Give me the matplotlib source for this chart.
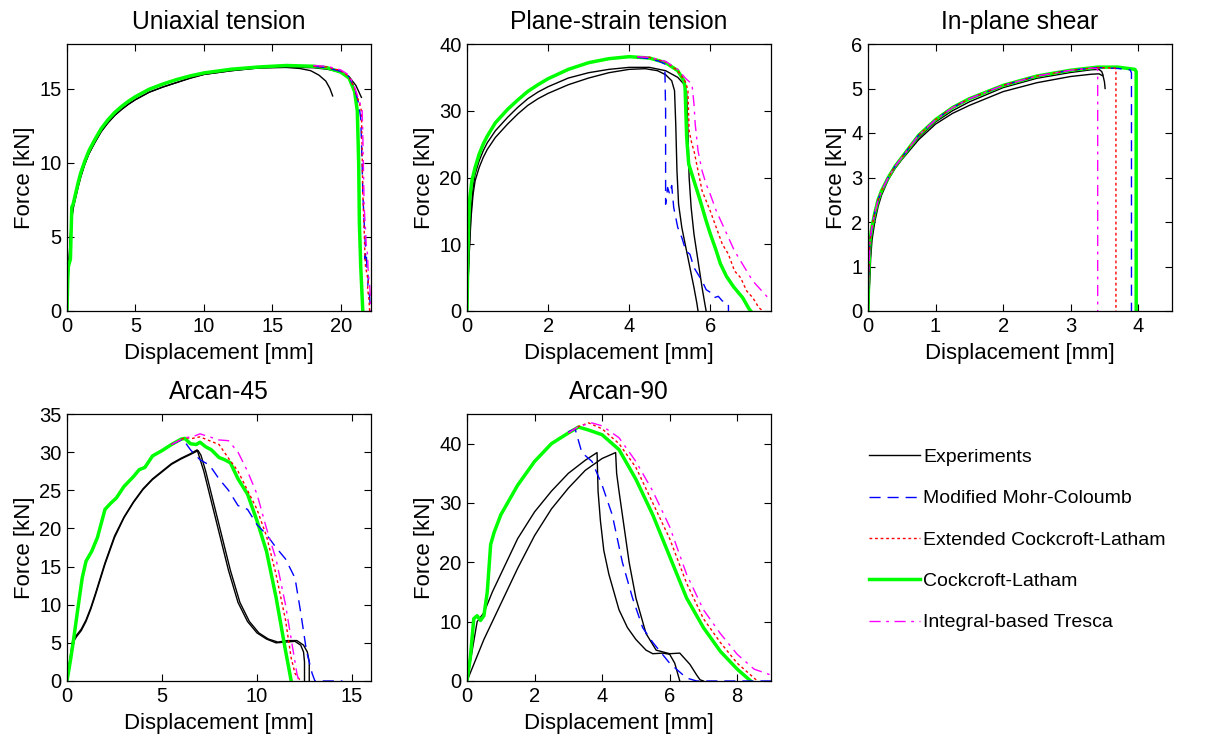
import matplotlib
matplotlib.use("Agg")
import matplotlib.pyplot as plt

plt.rcParams['font.family'] = ['Liberation Sans', 'DejaVu Sans']

# ---------------- Data ----------------
# Uniaxial tension
ut_exp1_x = [0, 0.08, 0.15, 0.3, 0.45, 0.6, 0.8, 1, 1.3, 1.6, 2, 2.5, 3, 3.5, 4, 4.5, 5, 6, 7, 8, 9, 10, 12, 14, 16, 17, 17.8, 18.4, 18.9, 19.2, 19.4]
ut_exp1_y = [0, 2.5, 3.5, 6.0, 7.0, 7.6, 8.4, 9.1, 9.9, 10.6, 11.3, 12.1, 12.7, 13.2, 13.6, 13.95, 14.25, 14.75, 15.1, 15.4, 15.7, 15.95, 16.2, 16.38, 16.42, 16.35, 16.2, 15.9, 15.5, 15.0, 14.5]
ut_exp2_x = [0, 0.08, 0.15, 0.3, 0.45, 0.6, 0.8, 1, 1.3, 1.6, 2, 2.5, 3, 3.5, 4, 4.5, 5, 6, 7, 8, 9, 10, 12, 14, 16, 18, 19, 20, 20.6, 21.1, 21.5]
ut_exp2_y = [0, 2.2, 3.2, 5.8, 6.9, 7.5, 8.3, 9.0, 9.9, 10.6, 11.3, 12.1, 12.7, 13.2, 13.6, 13.95, 14.25, 14.75, 15.1, 15.4, 15.7, 15.95, 16.2, 16.4, 16.45, 16.4, 16.3, 16.1, 15.8, 15.2, 14.4]
ut_cl_x = [0, 0.05, 0.1, 0.25, 0.35, 0.45, 0.6, 0.8, 1, 1.3, 1.6, 2, 2.5, 3, 3.5, 4, 4.5, 5, 6, 7, 8, 9, 10, 12, 14, 16, 18, 19, 20, 20.6, 21.0, 21.2, 21.3, 21.35, 21.45, 21.6]
ut_cl_y = [0, 2.0, 3.0, 3.5, 7.0, 7.2, 7.8, 8.6, 9.3, 10.1, 10.8, 11.5, 12.3, 12.9, 13.4, 13.8, 14.15, 14.45, 14.95, 15.3, 15.6, 15.85, 16.05, 16.3, 16.45, 16.55, 16.5, 16.4, 16.1, 15.7, 14.8, 13.5, 10.0, 6.0, 3.0, 0]
ut_mmc_x = [18, 19, 20, 20.6, 21.0, 21.3, 21.45, 21.55, 21.6, 21.7, 21.8, 21.75, 21.85, 21.9, 22.0, 21.95, 22.1, 22.15]
ut_mmc_y = [16.5, 16.4, 16.15, 15.8, 15.0, 14.0, 13.0, 10.0, 8.0, 6.0, 4.2, 3.5, 4.0, 3.0, 2.2, 1.5, 1.0, 0]
ut_ecl_x = [18, 19, 20, 20.6, 21.0, 21.35, 21.5, 21.55, 21.6, 21.7, 21.75, 21.8, 21.9, 22.0, 21.95, 22.05, 22.1]
ut_ecl_y = [16.5, 16.45, 16.2, 15.8, 15.0, 14.0, 13.5, 11.0, 8.0, 5.5, 4.0, 3.0, 2.5, 2.0, 1.5, 0.8, 0]
ut_it_x = [18, 19, 20, 20.6, 21.0, 21.4, 21.55, 21.6, 21.65, 21.7, 21.8, 21.85, 21.95, 22.0, 22.1, 22.15, 22.2]
ut_it_y = [16.55, 16.5, 16.25, 15.9, 15.1, 14.0, 13.6, 12.0, 9.5, 7.0, 5.5, 4.5, 3.8, 2.5, 1.8, 1.0, 0]

# Plane-strain tension
ps_exp1_x = [0, 0.05, 0.1, 0.15, 0.2, 0.3, 0.4, 0.5, 0.7, 1, 1.25, 1.5, 1.75, 2, 2.5, 3, 3.5, 4, 4.4, 4.7, 4.9, 5.05, 5.12, 5.15, 5.18, 5.22, 5.3, 5.4, 5.5, 5.6, 5.67, 5.7]
ps_exp1_y = [0, 8, 14, 17.5, 19.5, 21.5, 23.0, 24.2, 26.0, 28.0, 29.5, 30.8, 31.8, 32.6, 33.9, 34.9, 35.7, 36.2, 36.3, 36.0, 35.4, 34.5, 33.0, 28, 21, 16, 12.5, 9.5, 6.5, 3.5, 1.2, 0]
ps_exp2_x = [0, 0.05, 0.1, 0.15, 0.2, 0.3, 0.4, 0.5, 0.7, 1, 1.25, 1.5, 1.75, 2, 2.5, 3, 3.5, 4, 4.5, 4.9, 5.2, 5.35, 5.42, 5.45, 5.48, 5.53, 5.6, 5.7, 5.8, 5.87, 5.9]
ps_exp2_y = [0, 8.5, 15, 18.5, 20.5, 22.5, 24.0, 25.2, 27.0, 29.0, 30.5, 31.8, 32.8, 33.6, 34.9, 35.7, 36.2, 36.5, 36.5, 36.0, 35.0, 34.0, 32.5, 27, 20, 15.5, 11.5, 7.5, 3.5, 1.0, 0]
ps_cl_x = [0, 0.02, 0.04, 0.07, 0.12, 0.2, 0.3, 0.4, 0.5, 0.7, 1, 1.25, 1.5, 1.75, 2, 2.5, 3, 3.5, 4, 4.5, 4.9, 5.2, 5.35, 5.38, 5.42, 5.47, 5.6, 5.75, 5.9, 6.0, 6.15, 6.25, 6.4, 6.58, 6.8, 6.95, 7.0]
ps_cl_y = [0, 8, 13, 17, 19.5, 21.5, 23.5, 25.0, 26.2, 28.2, 30.2, 31.6, 32.9, 33.9, 34.8, 36.2, 37.2, 37.8, 38.1, 37.9, 37.2, 36.0, 34.5, 33.5, 26, 22, 19.5, 16.6, 13.5, 11.6, 9.0, 7.1, 5.2, 3.6, 2.0, 0.4, 0]
ps_mmc_x = [4.2, 4.5, 4.75, 4.88, 4.9, 4.9, 4.95, 5.0, 5.05, 5.1, 5.15, 5.2, 5.3, 5.4, 5.5, 5.6, 5.7, 5.8, 5.9, 6.0, 6.1, 6.2, 6.3, 6.4, 6.45, 6.45]
ps_mmc_y = [38.0, 37.8, 37.4, 37.0, 30, 16, 18.5, 17.5, 18.8, 15.5, 14.0, 12.5, 11.0, 9.0, 8.5, 6.5, 5.5, 4.5, 3.2, 2.8, 2.0, 2.2, 1.5, 1.4, 0.8, 0]
ps_ecl_x = [4.2, 4.5, 4.9, 5.2, 5.4, 5.45, 5.48, 5.55, 5.6, 5.7, 5.8, 5.9, 6.0, 6.15, 6.3, 6.45, 6.6, 6.75, 6.9, 7.05, 7.2, 7.3]
ps_ecl_y = [38.1, 38.0, 37.3, 36.0, 34.2, 33.0, 27, 25, 24, 21, 18, 16.5, 15, 12.5, 10, 8.5, 6, 5.0, 3, 2.0, 0.5, 0]
ps_it_x = [4.2, 4.5, 4.9, 5.2, 5.4, 5.55, 5.6, 5.63, 5.7, 5.8, 5.9, 6.0, 6.15, 6.3, 6.45, 6.6, 6.75, 6.9, 7.05, 7.2, 7.35, 7.5]
ps_it_y = [38.1, 38.0, 37.4, 36.2, 34.8, 34.0, 31, 28, 24, 21, 19, 17.5, 15, 13, 11, 9, 7.5, 6, 4.5, 3.5, 2.5, 1.5]

# In-plane shear
sh_exp1_x = [0, 0.02, 0.04, 0.06, 0.1, 0.15, 0.2, 0.3, 0.4, 0.5, 0.75, 1, 1.25, 1.5, 2, 2.5, 3, 3.3, 3.42, 3.48, 3.5, 3.51]
sh_exp1_y = [0, 0.5, 1.2, 1.6, 2.0, 2.35, 2.6, 2.95, 3.2, 3.4, 3.85, 4.2, 4.44, 4.62, 4.93, 5.13, 5.27, 5.32, 5.33, 5.28, 5.15, 5.0]
sh_exp2_x = [0, 0.02, 0.04, 0.06, 0.1, 0.15, 0.2, 0.3, 0.4, 0.5, 0.75, 1, 1.25, 1.5, 2, 2.5, 3, 3.3, 3.42, 3.46, 3.48]
sh_exp2_y = [0, 0.6, 1.4, 1.8, 2.15, 2.45, 2.7, 3.0, 3.25, 3.45, 3.9, 4.25, 4.5, 4.7, 5.02, 5.23, 5.36, 5.42, 5.43, 5.38, 5.3]
sh_cl_x = [0, 0.01, 0.03, 0.06, 0.1, 0.15, 0.2, 0.3, 0.4, 0.5, 0.75, 1, 1.25, 1.5, 2, 2.5, 3, 3.4, 3.7, 3.9, 3.95, 3.97, 3.97]
sh_cl_y = [0, 0.8, 1.6, 1.9, 2.2, 2.5, 2.7, 3.0, 3.25, 3.45, 3.95, 4.3, 4.57, 4.77, 5.07, 5.28, 5.41, 5.48, 5.48, 5.44, 5.43, 5.38, 0]
sh_mmc_x = [0, 0.01, 0.03, 0.06, 0.1, 0.15, 0.2, 0.3, 0.4, 0.5, 0.75, 1, 1.25, 1.5, 2, 2.5, 3, 3.4, 3.7, 3.88, 3.9, 3.9]
sh_mmc_y = [0, 0.8, 1.6, 1.9, 2.2, 2.5, 2.7, 3.0, 3.25, 3.45, 3.95, 4.3, 4.57, 4.77, 5.07, 5.28, 5.41, 5.47, 5.45, 5.42, 5.35, 0]
sh_ecl_x = [0, 0.01, 0.03, 0.06, 0.1, 0.15, 0.2, 0.3, 0.4, 0.5, 0.75, 1, 1.25, 1.5, 2, 2.5, 3, 3.4, 3.65, 3.67, 3.67]
sh_ecl_y = [0, 0.8, 1.6, 1.9, 2.2, 2.5, 2.7, 3.0, 3.25, 3.45, 3.95, 4.3, 4.57, 4.77, 5.07, 5.28, 5.41, 5.47, 5.46, 5.44, 0]
sh_it_x = [0, 0.01, 0.03, 0.06, 0.1, 0.15, 0.2, 0.3, 0.4, 0.5, 0.75, 1, 1.25, 1.5, 2, 2.5, 3, 3.3, 3.38, 3.4, 3.4]
sh_it_y = [0, 0.8, 1.6, 1.9, 2.2, 2.5, 2.7, 3.0, 3.25, 3.45, 3.95, 4.3, 4.57, 4.77, 5.07, 5.28, 5.41, 5.46, 5.45, 5.42, 0]

# Arcan-45
a45_exp1_x = [0, 0.1, 0.3, 0.5, 0.75, 1, 1.25, 1.5, 1.75, 2, 2.5, 3, 3.5, 4, 4.5, 5, 5.5, 6, 6.5, 6.85, 6.95, 7.2, 7.5, 8, 8.5, 9, 9.5, 10, 10.5, 11, 11.5, 12, 12.3, 12.45, 12.5, 12.5]
a45_exp1_y = [0, 2, 5.3, 6.0, 6.8, 8.0, 9.6, 11.5, 13.5, 15.5, 19.0, 21.5, 23.5, 25.2, 26.5, 27.5, 28.5, 29.2, 29.8, 30.3, 29.5, 27.5, 24.5, 19.5, 14.5, 10.3, 7.8, 6.3, 5.5, 5.0, 5.1, 5.2, 4.7, 3.8, 2.5, 0]
a45_exp2_x = [0, 0.1, 0.3, 0.5, 0.75, 1, 1.25, 1.5, 1.75, 2, 2.5, 3, 3.5, 4, 4.5, 5, 5.5, 6, 6.5, 6.9, 7.05, 7.3, 7.6, 8.1, 8.6, 9.1, 9.6, 10.1, 10.6, 11.1, 11.6, 12.1, 12.45, 12.65, 12.75, 12.75]
a45_exp2_y = [0, 1.8, 5.0, 5.8, 6.6, 7.8, 9.4, 11.3, 13.3, 15.3, 18.8, 21.4, 23.4, 25.1, 26.4, 27.4, 28.4, 29.1, 29.7, 30.2, 29.6, 27.5, 24.5, 19.5, 14.5, 10.3, 7.8, 6.3, 5.5, 5.1, 5.3, 5.3, 4.7, 3.8, 2.5, 0]
a45_cl_x = [0, 0.2, 0.35, 0.6, 0.8, 1, 1.3, 1.6, 2, 2.3, 2.6, 3, 3.5, 3.8, 4.1, 4.5, 5, 5.5, 6, 6.2, 6.5, 6.8, 7, 7.3, 7.6, 8, 8.3, 8.6, 9, 9.5, 10, 10.5, 11, 11.5, 11.8]
a45_cl_y = [0, 3, 5.5, 10, 13.5, 15.7, 17.0, 18.8, 22.5, 23.3, 24.0, 25.5, 26.8, 27.7, 28.0, 29.5, 30.2, 31.0, 31.7, 31.8, 31.1, 31.0, 31.3, 30.7, 30.3, 29.3, 29.0, 28.6, 26.5, 24.5, 21, 17, 11, 4, 0]
a45_mmc_x = [5.5, 6.1, 6.5, 7, 7.5, 8, 8.5, 9, 9.5, 10, 10.5, 11, 11.5, 12, 12.3, 12.6, 12.9, 13.05, 13.5, 14.5]
a45_mmc_y = [31.0, 31.7, 30.3, 29.0, 28.3, 26.5, 25.0, 23.0, 22.5, 20.5, 19.2, 17.5, 16.0, 13.5, 9.0, 4.0, 1.0, 0, 0, 0]
a45_ecl_x = [5.5, 6.2, 6.6, 7, 7.5, 8, 8.5, 9, 9.5, 10, 10.5, 11, 11.5, 11.8, 12.0, 12.3]
a45_ecl_y = [31.0, 31.9, 31.8, 32.0, 31.5, 31.0, 29.2, 27.5, 25.0, 22.5, 19.0, 14.0, 8.0, 3.0, 1.0, 0]
a45_it_x = [5.5, 6.2, 6.6, 7, 7.5, 8, 8.5, 9, 9.5, 10, 10.5, 11, 11.5, 11.9, 12.1, 12.2]
a45_it_y = [31.0, 31.9, 32.0, 32.4, 32.0, 31.6, 31.5, 30.0, 27.5, 24.5, 20.0, 16.0, 10.0, 4.0, 1.0, 0]

# Arcan-90
a90_exp1_x = [0, 0.15, 0.3, 0.5, 0.75, 1, 1.5, 2, 2.5, 3, 3.5, 3.85, 3.88, 3.95, 4.05, 4.2, 4.5, 4.75, 5, 5.3, 5.5, 5.8, 6.0, 6.15, 6.25, 6.3]
a90_exp1_y = [0, 5, 10, 11.5, 15, 18, 24, 28.5, 32, 35, 37.2, 38.5, 32, 27, 22, 18, 12, 9, 7, 5.2, 4.6, 4.7, 4.5, 3.0, 1.0, 0]
a90_exp2_x = [0, 0.5, 1, 1.5, 2, 2.5, 3, 3.5, 4, 4.4, 4.43, 4.5, 4.6, 4.8, 5, 5.3, 5.6, 6, 6.3, 6.6, 6.8, 6.9, 7.0]
a90_exp2_y = [0, 7, 13, 19, 24.5, 29, 32.5, 35.5, 37.5, 38.5, 35, 32, 28, 20, 14, 8, 5.2, 4.6, 4.7, 2.8, 1.0, 0.2, 0]
a90_cl_x = [0, 0.1, 0.2, 0.3, 0.4, 0.5, 0.6, 0.7, 0.8, 1, 1.25, 1.5, 1.75, 2, 2.5, 3, 3.3, 3.6, 4, 4.5, 5, 5.5, 6, 6.5, 7, 7.5, 8, 8.4]
a90_cl_y = [0, 4, 10.5, 11, 10.2, 11, 15, 23, 25, 28, 30.5, 33, 35, 37, 40, 41.8, 42.8, 42.3, 41.5, 39, 34, 28, 21, 14, 9, 5, 2, 0]
a90_mmc_x = [3.0, 3.2, 3.3, 3.4, 3.7, 4, 4.3, 4.6, 4.9, 5.2, 5.5, 6, 6.5, 6.8, 7.5, 9]
a90_mmc_y = [42.0, 42.5, 40.5, 38.5, 37, 33, 28, 20, 14, 9, 6.5, 3, 0.5, 0, 0, 0]
a90_ecl_x = [3.0, 3.3, 3.6, 4, 4.5, 5, 5.5, 6, 6.5, 7, 7.5, 8, 8.5, 8.6]
a90_ecl_y = [41.8, 42.9, 43.5, 42.5, 40, 36, 30, 24, 16.5, 10.5, 6.5, 3, 0.5, 0]
a90_it_x = [3.0, 3.3, 3.7, 4, 4.5, 5, 5.5, 6, 6.5, 7, 7.5, 8, 8.5, 9]
a90_it_y = [41.8, 42.9, 43.5, 43, 41, 37, 32, 26, 18, 12, 8, 4.5, 2, 1]

titles = ["Uniaxial tension", "Plane-strain tension", "In-plane shear", "Arcan-45", "Arcan-90"]
legend_labels = ["Experiments", "Modified Mohr-Coloumb", "Extended Cockcroft-Latham",
                 "Cockcroft-Latham", "Integral-based Tresca"]
xlims = [22.2, 7.5, 4.5, 16, 9]
ylims = [18, 40, 6, 35, 45]
xticks = [[0, 5, 10, 15, 20], [0, 2, 4, 6], [0, 1, 2, 3, 4], [0, 5, 10, 15], [0, 2, 4, 6, 8]]
yticks = [[0, 5, 10, 15], [0, 10, 20, 30, 40], [0, 1, 2, 3, 4, 5, 6],
          [0, 5, 10, 15, 20, 25, 30, 35], [0, 10, 20, 30, 40]]

datasets = [
    dict(exp=[(ut_exp1_x, ut_exp1_y), (ut_exp2_x, ut_exp2_y)], mmc=(ut_mmc_x, ut_mmc_y),
         ecl=(ut_ecl_x, ut_ecl_y), cl=(ut_cl_x, ut_cl_y), it=(ut_it_x, ut_it_y)),
    dict(exp=[(ps_exp1_x, ps_exp1_y), (ps_exp2_x, ps_exp2_y)], mmc=(ps_mmc_x, ps_mmc_y),
         ecl=(ps_ecl_x, ps_ecl_y), cl=(ps_cl_x, ps_cl_y), it=(ps_it_x, ps_it_y)),
    dict(exp=[(sh_exp1_x, sh_exp1_y), (sh_exp2_x, sh_exp2_y)], mmc=(sh_mmc_x, sh_mmc_y),
         ecl=(sh_ecl_x, sh_ecl_y), cl=(sh_cl_x, sh_cl_y), it=(sh_it_x, sh_it_y)),
    dict(exp=[(a45_exp1_x, a45_exp1_y), (a45_exp2_x, a45_exp2_y)], mmc=(a45_mmc_x, a45_mmc_y),
         ecl=(a45_ecl_x, a45_ecl_y), cl=(a45_cl_x, a45_cl_y), it=(a45_it_x, a45_it_y)),
    dict(exp=[(a90_exp1_x, a90_exp1_y), (a90_exp2_x, a90_exp2_y)], mmc=(a90_mmc_x, a90_mmc_y),
         ecl=(a90_ecl_x, a90_ecl_y), cl=(a90_cl_x, a90_cl_y), it=(a90_it_x, a90_it_y)),
]

# ---------------- Figure ----------------
W, H = 1212, 740
fig = plt.figure(figsize=(W / 100, H / 100), dpi=100)

ax_w, ax_h = 304 / W, 267 / H
lefts = [67 / W, 467 / W, 868 / W, 67 / W, 467 / W]
bottoms = [1 - 311 / H] * 3 + [1 - 681 / H] * 2

styles = dict(
    exp=dict(color='black', lw=1.0, ls='-'),
    mmc=dict(color='#0000ff', lw=1.0, ls=(0, (8, 5))),
    ecl=dict(color='#ff0000', lw=1.0, ls=(0, (2, 2))),
    cl=dict(color='#00ff00', lw=2.5, ls='-'),
    it=dict(color='#ff00ff', lw=1.0, ls=(0, (8, 4, 2, 4))),
)

handles = None
for i in range(5):
    ax = fig.add_axes([lefts[i], bottoms[i], ax_w, ax_h])
    d = datasets[i]
    h_exp = None
    for (x, y) in d['exp']:
        h_exp, = ax.plot(x, y, **styles['exp'])
    h_cl, = ax.plot(*d['cl'], **styles['cl'])
    h_mmc, = ax.plot(*d['mmc'], **styles['mmc'])
    h_ecl, = ax.plot(*d['ecl'], **styles['ecl'])
    h_it, = ax.plot(*d['it'], **styles['it'])
    handles = [h_exp, h_mmc, h_ecl, h_cl, h_it]
    ax.set_xlim(0, xlims[i])
    ax.set_ylim(0, ylims[i])
    ax.set_xticks(xticks[i])
    ax.set_yticks(yticks[i])
    ax.tick_params(direction='in', top=True, right=True, length=5, width=0.8,
                   labelsize=14.5, pad=4)
    for s in ax.spines.values():
        s.set_linewidth(0.9)
    ax.set_title(titles[i], fontsize=17.7, pad=11)
    ax.set_xlabel("Displacement [mm]", fontsize=15.9, labelpad=5)
    ax.set_ylabel("Force [kN]", fontsize=15.9, labelpad=3)

fig.legend(handles, legend_labels, loc='center left',
           bbox_to_anchor=(869 / W, 1 - 540 / H), frameon=False,
           fontsize=14, handlelength=2.6, handletextpad=0.2, labelspacing=1.22,
           borderpad=0, borderaxespad=0)

fig.savefig("out.png", dpi=100)
